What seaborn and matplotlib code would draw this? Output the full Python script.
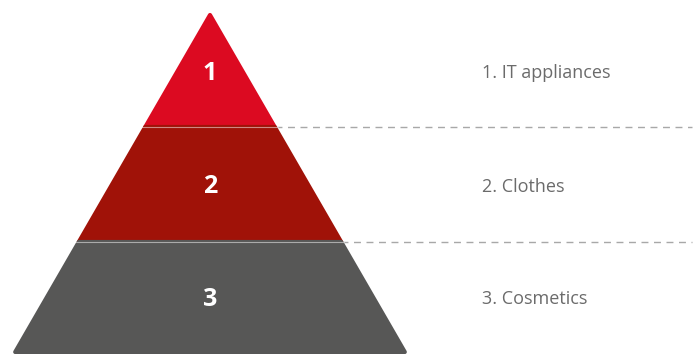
import matplotlib
matplotlib.use("Agg")
import matplotlib.pyplot as plt
import seaborn as sns
import numpy as np

sns.set_theme(style="white")
plt.rcParams['font.family'] = ['Open Sans', 'DejaVu Sans']

# pyramid tiers (top to bottom), boundaries in pixel units of the picture
tiers = ["1", "2", "3"]
labels = ["1. IT appliances", "2. Clothes", "3. Cosmetics"]
colors = ["#dc0a21", "#a01208", "#575756"]
bounds = [15, 127, 242, 352]
apex_x = 210
slope = 0.578

fig = plt.figure(figsize=(6.94, 3.54), dpi=100)
ax = fig.add_axes([0, 0, 1, 1])
ax.set_xlim(0, 694)
ax.set_ylim(354, 0)
ax.axis("off")

def half(y):
    return (y - bounds[0]) * slope

for i, name in enumerate(tiers):
    y0, y1 = bounds[i], bounds[i + 1]
    xs = [apex_x - half(y0), apex_x + half(y0), apex_x + half(y1), apex_x - half(y1)]
    ys = [y0, y0, y1, y1]
    ax.fill(xs, ys, color=colors[i], lw=3, ec=colors[i], joinstyle="round", zorder=2)
    ym = (y0 + y1) / 2 + 2
    ax.text(apex_x, ym, name, color="white", fontsize=18, fontweight="bold",
            ha="center", va="center", zorder=4)
    ax.text(482, ym, labels[i], color="#6b6b6b", fontsize=13,
            ha="left", va="center", zorder=4)

# separators between tiers
for y in bounds[1:-1]:
    ax.plot([apex_x - half(y) - 3, apex_x + half(y) + 3], [y, y], color="white",
            lw=0.8, alpha=0.5, zorder=3)
    ax.plot([apex_x + half(y), 692], [y, y], color="#a8a8a8", lw=1,
            ls=(0, (5, 4)), zorder=1)

fig.savefig("out.png", dpi=100)
